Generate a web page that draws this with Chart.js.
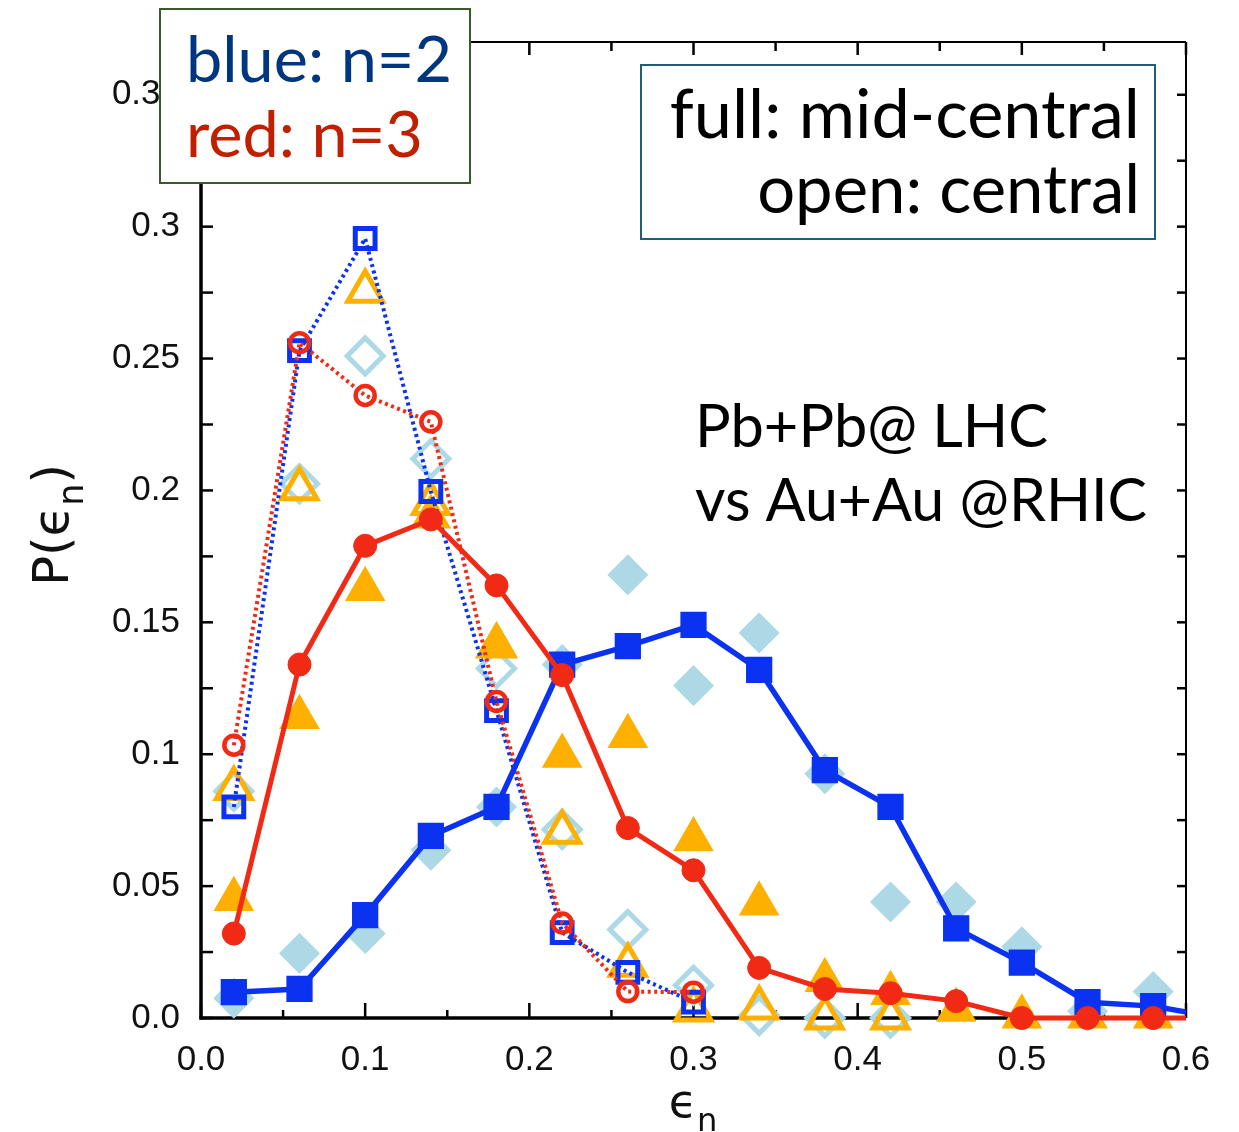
<!DOCTYPE html>
<html>
<head>
<meta charset="utf-8">
<title>P(eps_n) Pb+Pb vs Au+Au</title>
<script src="https://cdn.jsdelivr.net/npm/chart.js@4.4.1/dist/chart.umd.min.js"></script>
<style>
  html, body { margin: 0; padding: 0; background: #fff; }
  #wrap { width: 1239px; height: 1132px; }
</style>
</head>
<body>
<div id="wrap"><canvas id="chart" width="1239" height="1132"></canvas></div>
<script>
// bin centres in eps_n (last one sits just past the frame, the lines run out to the edge)
const epsBins = [0.02, 0.06, 0.10, 0.14, 0.18, 0.22, 0.26, 0.30, 0.34, 0.38, 0.42, 0.46, 0.50, 0.54, 0.58, 0.62];

// Pb+Pb @ LHC, joined by lines
const n2MidLhc = [0.0098, 0.011, 0.039, 0.069, 0.080, 0.134, 0.141, 0.149, 0.132, 0.094, 0.080, 0.034, 0.021, 0.006, 0.0045, 0.0];
const n3MidLhc = [0.032, 0.134, 0.179, 0.189, 0.164, 0.130, 0.072, 0.056, 0.019, 0.011, 0.0094, 0.0064, 0.0, 0.0, 0.0, 0.0];
const n2CentralLhc = [0.080, 0.253, 0.2955, 0.1996, 0.1165, 0.0324, 0.0173, 0.006];
const n3CentralLhc = [0.1034, 0.256, 0.236, 0.226, 0.120, 0.036, 0.010, 0.0098];

// Au+Au @ RHIC, symbols only
const n2MidRhic = [0.0075, 0.0245, 0.032, 0.0636, 0.080, 0.134, 0.168, 0.126, 0.146, 0.0926, 0.044, 0.044, 0.027, 0.0026, 0.010];
const n2CentralRhic = [0.086, 0.2025, 0.251, 0.212, 0.1325, 0.0715, 0.0335, 0.0124, 0.001, 0.0, 0.0];
const n3MidRhic = [0.045, 0.114, 0.1625, 0.190, 0.1415, 0.0993, 0.1068, 0.0677, 0.0433, 0.0143, 0.0094, 0.003, 0.0005, 0.0005, 0.0005];
const n3CentralRhic = [0.087, 0.2006, 0.2755, 0.195, 0.141, 0.0704, 0.020, 0.003, 0.0038, 0.0, 0.0];

// axes
const xTicks = [0, 0.1, 0.2, 0.3, 0.4, 0.5, 0.6];
const xTickLabels = ['0.0', '0.1', '0.2', '0.3', '0.4', '0.5', '0.6'];
const xMinorTicks = [0.05, 0.15, 0.25, 0.35, 0.45, 0.55];
const yTicks = [0, 0.05, 0.1, 0.15, 0.2, 0.25, 0.3, 0.35];
const yTickLabels = ['0.0', '0.05', '0.1', '0.15', '0.2', '0.25', '0.3', '0.35'];
const yMinorTicks = [0.025, 0.075, 0.125, 0.175, 0.225, 0.275, 0.325];

const BLUE = '#0a32f0';
const RED = '#f02a14';
const ORANGE = '#fdb000';
const LIGHTBLUE = '#add8e6';
const CLIP = { left: 30, top: 30, right: 0, bottom: 30 };

const toPoints = vals => vals.map((v, i) => ({ x: epsBins[i], y: v }));

const datasets = [
    { label: 'n=3 mid-central LHC', data: toPoints(n3MidLhc), borderColor: RED, backgroundColor: RED,
      borderWidth: 5, pointStyle: 'circle', pointRadius: 11.5, pointBorderWidth: 1 },
    { label: 'n=2 mid-central LHC', data: toPoints(n2MidLhc), borderColor: BLUE, backgroundColor: BLUE,
      borderWidth: 5.5, pointStyle: 'rect', pointRadius: 17.5, pointBorderWidth: 1.5 },
    { label: 'n=3 central LHC', data: toPoints(n3CentralLhc), borderColor: RED, backgroundColor: 'rgba(255,255,255,0)',
      borderWidth: 4, borderDash: [3, 3.5], pointStyle: 'circle', pointRadius: 9.5, pointBorderWidth: 4.5 },
    { label: 'n=2 central LHC', data: toPoints(n2CentralLhc), borderColor: BLUE, backgroundColor: 'rgba(255,255,255,0)',
      borderWidth: 4, borderDash: [3, 3.5], pointStyle: 'rect', pointRadius: 14, pointBorderWidth: 5 },
    { label: 'n=3 mid-central RHIC', data: toPoints(n3MidRhic), borderColor: ORANGE, backgroundColor: ORANGE,
      showLine: false, pointStyle: 'triangle', pointRadius: 22, pointBorderWidth: 1.5 },
    { label: 'n=3 central RHIC', data: toPoints(n3CentralRhic), borderColor: ORANGE, backgroundColor: 'rgba(255,255,255,0)',
      showLine: false, pointStyle: 'triangle', pointRadius: 20, pointBorderWidth: 5 },
    { label: 'n=2 mid-central RHIC', data: toPoints(n2MidRhic), borderColor: LIGHTBLUE, backgroundColor: LIGHTBLUE,
      showLine: false, pointStyle: 'rectRot', pointRadius: 20, pointBorderWidth: 1 },
    { label: 'n=2 central RHIC', data: toPoints(n2CentralRhic), borderColor: LIGHTBLUE, backgroundColor: 'rgba(255,255,255,0)',
      showLine: false, pointStyle: 'rectRot', pointRadius: 18, pointBorderWidth: 5 }
];
datasets.forEach(ds => {
    ds.clip = CLIP;
    ds.pointHoverRadius = ds.pointRadius;
    ds.borderCapStyle = 'butt';
    ds.borderJoinStyle = 'round';
});

// frame with inward ticks on all four sides
const frameAndTicks = {
    id: 'frameAndTicks',
    beforeDatasetsDraw(chart) {
        const { ctx, chartArea: a, scales: { x, y } } = chart;
        const line = (x1, y1, x2, y2) => {
            ctx.beginPath();
            ctx.moveTo(x1, y1);
            ctx.lineTo(x2, y2);
            ctx.stroke();
        };
        ctx.save();
        ctx.strokeStyle = '#000';
        ctx.lineWidth = 2.5;
        xTicks.forEach(v => {
            const px = x.getPixelForValue(v);
            line(px, a.bottom, px, a.bottom - 15);
            line(px, a.top, px, a.top + 13);
        });
        xMinorTicks.forEach(v => {
            const px = x.getPixelForValue(v);
            line(px, a.bottom, px, a.bottom - 8);
            line(px, a.top, px, a.top + 9);
        });
        yTicks.concat(yMinorTicks).forEach(v => {
            const py = y.getPixelForValue(v);
            line(a.left, py, a.left + 12, py);
            line(a.right, py, a.right - 9, py);
        });
        ctx.lineWidth = 2;
        line(a.left, a.top, a.right, a.top);
        line(a.right, a.top, a.right, a.bottom);
        ctx.lineWidth = 3.5;
        line(a.left, a.top, a.left, a.bottom + 1.5);
        line(a.left - 1.5, a.bottom, a.right, a.bottom);
        ctx.restore();
    }
};

// fit a string to a given width, then draw it at a baseline
function fitText(ctx, str, x, baseline, width, align, color) {
    ctx.font = '60px Lato, "Open Sans", sans-serif';
    const size = 60 * width / ctx.measureText(str).width;
    ctx.font = size.toFixed(1) + 'px Lato, "Open Sans", sans-serif';
    ctx.textAlign = align;
    ctx.textBaseline = 'alphabetic';
    ctx.fillStyle = color;
    ctx.fillText(str, x, baseline);
}

function box(ctx, x, y, w, h, color) {
    ctx.fillStyle = '#fff';
    ctx.fillRect(x, y, w, h);
    ctx.lineWidth = 2;
    ctx.strokeStyle = color;
    ctx.strokeRect(x + 1, y + 1, w - 2, h - 2);
}

// main text followed by a lowered, smaller subscript
function drawWithSub(ctx, parts, size) {
    let total = 0;
    parts.forEach(p => {
        ctx.font = (p.sub ? size * 0.7 : size) + 'px "DejaVu Sans", sans-serif';
        p.w = ctx.measureText(p.t).width;
        total += p.w;
    });
    let cx = -total / 2;
    ctx.textAlign = 'left';
    ctx.textBaseline = 'alphabetic';
    parts.forEach(p => {
        ctx.font = (p.sub ? size * 0.7 : size) + 'px "DejaVu Sans", sans-serif';
        ctx.fillText(p.t, cx, p.sub ? size * 0.3 : 0);
        cx += p.w;
    });
}

const annotations = {
    id: 'annotations',
    afterDraw(chart) {
        const { ctx } = chart;
        ctx.save();

        box(ctx, 159, 8, 312, 176, '#3b5a2a');
        fitText(ctx, 'blue: n=2', 186, 82, 266, 'left', '#00357f');
        fitText(ctx, 'red: n=3', 186, 157, 237, 'left', '#c02000');

        box(ctx, 640, 64, 516, 176, '#1f5e78');
        fitText(ctx, 'full: mid-central', 1140, 138, 470, 'right', '#000');
        fitText(ctx, 'open: central', 1140, 213, 383, 'right', '#000');

        fitText(ctx, 'Pb+Pb@ LHC', 695, 447, 353, 'left', '#000');
        fitText(ctx, 'vs Au+Au @RHIC', 695, 521, 452, 'left', '#000');

        // axis titles
        ctx.fillStyle = '#111';
        ctx.save();
        ctx.translate(68, 525);
        ctx.rotate(-Math.PI / 2);
        drawWithSub(ctx, [{ t: 'P(ϵ' }, { t: 'n', sub: true }, { t: ')' }], 50);
        ctx.restore();

        ctx.save();
        ctx.translate(693, 1117);
        drawWithSub(ctx, [{ t: 'ϵ' }, { t: 'n', sub: true }], 46);
        ctx.restore();

        ctx.restore();
    }
};

const tickFont = { family: '"Liberation Sans", Arial, sans-serif', size: 35 };

new Chart(document.getElementById('chart'), {
    type: 'line',
    data: { datasets },
    options: {
        responsive: false,
        animation: false,
        layout: { padding: { top: 35, right: 53, left: 0, bottom: 0 } },
        plugins: { legend: { display: false }, tooltip: { enabled: false } },
        scales: {
            x: {
                type: 'linear',
                min: 0,
                max: 0.6,
                grid: { display: false, drawTicks: false },
                border: { display: false },
                afterBuildTicks: scale => { scale.ticks = xTicks.map(v => ({ value: v })); },
                afterFit: scale => { scale.height = 114; },
                ticks: {
                    padding: 21,
                    color: '#111',
                    font: tickFont,
                    maxRotation: 0,
                    callback: v => xTickLabels[xTicks.indexOf(v)]
                }
            },
            y: {
                type: 'linear',
                min: 0,
                max: 0.37,
                grid: { display: false, drawTicks: false },
                border: { display: false },
                afterBuildTicks: scale => { scale.ticks = yTicks.map(v => ({ value: v })); },
                afterFit: scale => { scale.width = 201; },
                ticks: {
                    padding: 21,
                    color: '#111',
                    font: tickFont,
                    callback: v => yTickLabels[yTicks.indexOf(v)]
                }
            }
        }
    },
    plugins: [frameAndTicks, annotations]
});
</script>
</body>
</html>
